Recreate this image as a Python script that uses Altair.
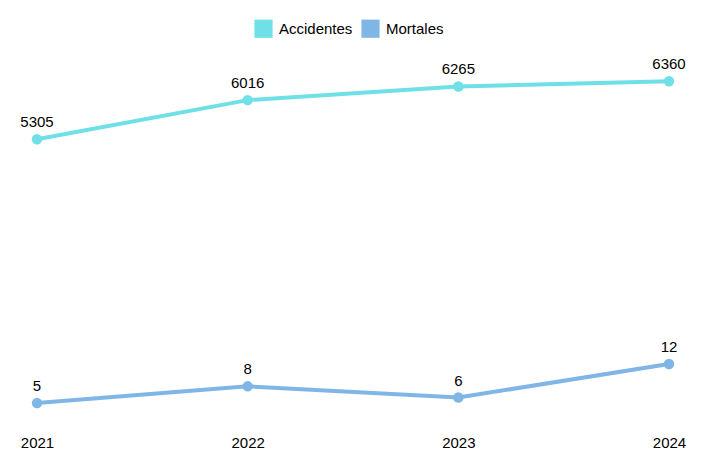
import altair as alt
import pandas as pd

years = [2021, 2022, 2023, 2024]
accidentes = [5305, 6016, 6265, 6360]
mortales = [5, 8, 6, 12]
series_names = ["Accidentes", "Mortales"]
series_colors = ["#6EE0E6", "#7FB6E6"]

df_acc = pd.DataFrame({"year": years, "value": accidentes, "serie": "Accidentes"})
df_mor = pd.DataFrame({"year": years, "value": mortales, "serie": "Mortales"})

FONT = "Liberation Sans"

x_enc = alt.X(
    "year:Q",
    scale=alt.Scale(domain=[2021, 2024], nice=False, zero=False),
    axis=alt.Axis(values=years, format="d", grid=False, domain=False, ticks=False,
                  labelFontSize=15, labelPadding=4, labelColor="#000", title=None,
                  labelFont=FONT, labelFlush=False, labelOverlap=False),
)
color_enc = alt.Color(
    "serie:N",
    scale=alt.Scale(domain=series_names, range=series_colors),
    legend=alt.Legend(title=None, orient="none", direction="horizontal",
                      legendX=217, legendY=-27, symbolType="square", symbolSize=330,
                      symbolStrokeWidth=0, symbolOpacity=1, labelFontSize=15,
                      labelFont=FONT, labelColor="#000", columnPadding=8,
                      labelOffset=6),
)


def series_layer(df, domain):
    base = alt.Chart(df).encode(
        x=x_enc,
        y=alt.Y("value:Q", scale=alt.Scale(domain=domain, nice=False), axis=None),
    )
    line = base.mark_line(strokeWidth=4).encode(color=color_enc)
    pts = base.mark_circle(size=110, opacity=1).encode(color=color_enc)
    txt = base.mark_text(dy=-17, fontSize=15, font=FONT, color="#000").encode(
        text=alt.Text("value:Q", format="d"))
    return alt.layer(line, pts, txt)


chart = alt.layer(
    series_layer(df_acc, [0, 7000]),
    series_layer(df_mor, [0, 69]),
).resolve_scale(y="independent").properties(
    width=632, height=385,
    autosize=alt.AutoSizeParams(type="none"),
    padding={"left": 29, "top": 38, "right": 20, "bottom": 30},
    background="white",
).configure_view(stroke=None)

chart.save("out.html", embed_options={"renderer": "svg", "actions": False})
